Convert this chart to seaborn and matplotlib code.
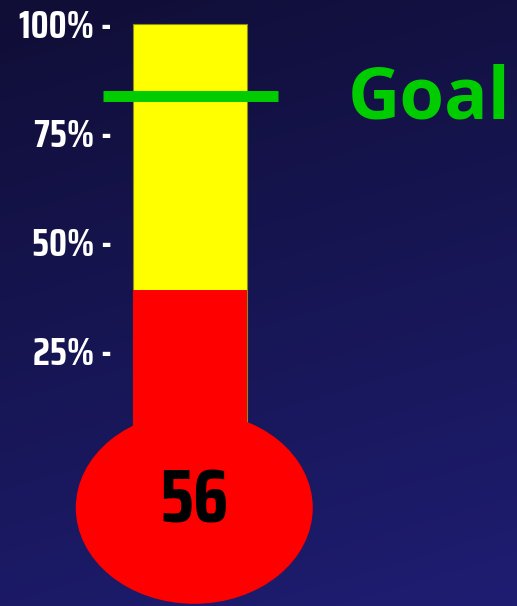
import numpy as np
import pandas as pd
import matplotlib
matplotlib.use("Agg")
import matplotlib.pyplot as plt
from matplotlib.patches import Ellipse
from matplotlib.colors import LinearSegmentedColormap
import seaborn as sns

# Data
count = 56
capacity = 144
goal = 120
tick_values = [25, 50, 75, 100]
tick_labels = ["25% -", "50% -", "75% -", "100% -"]

fill_pct = count / capacity * 100
goal_pct = goal / capacity * 100

sns.set_theme(style="white")
narrow = ["Saira Condensed", "Roboto Condensed", "DejaVu Sans"]
plt.rcParams["font.family"] = narrow

W, H = 517, 606
fig = plt.figure(figsize=(W / 100, H / 100), dpi=100)

# Navy gradient backdrop
bg = fig.add_axes([0, 0, 1, 1], zorder=-5)
yy, xx = np.mgrid[0:1:300j, 0:1:300j]
grad = 0.8 * yy + 0.2 * xx
cmap = LinearSegmentedColormap.from_list("navy", ["#100e36", "#1e1d72"])
bg.imshow(grad, cmap=cmap, aspect="auto", extent=[0, 1, 0, 1], origin="upper")
bg.set_axis_off()

# Main axes: left edge sits just right of the tick labels
left_px = 115
ax = fig.add_axes([left_px / W, 0, 1 - left_px / W, 1])
ax.set_facecolor("none")

px_per_unit = 142.5       # horizontal pixels per bar-width unit
tube_px = 190             # tube centre, pixels from left
px_per_pct = 4.347
zero_px = 458.7           # 0% level, pixels from top

xlim = ((left_px - tube_px) / px_per_unit, (W - tube_px) / px_per_unit)
ylim = ((zero_px - H) / px_per_pct, zero_px / px_per_pct)

# Tube: full scale in yellow, current level in red
df_full = pd.DataFrame({"item": ["level"], "value": [100]})
df_fill = pd.DataFrame({"item": ["level"], "value": [fill_pct]})
sns.barplot(data=df_full, x="item", y="value", color="#ffff00", saturation=1,
            width=0.8, edgecolor="#8c8c1a", linewidth=0.8, ax=ax, zorder=2)
sns.barplot(data=df_fill, x="item", y="value", color="#ff0000", saturation=1,
            width=0.8, linewidth=0, ax=ax, zorder=3)
ax.set_xlim(*xlim)
ax.set_ylim(*ylim)

# Bulb
bulb = Ellipse((0.03, -11.3), width=237 / px_per_unit, height=192 / px_per_pct,
               facecolor="#ff0000", edgecolor="none", zorder=4, clip_on=False)
ax.add_patch(bulb)
ax.text(0.03, -10.0, f"{count}", ha="center", va="center", color="black",
        fontsize=54, fontweight="bold", family=narrow, zorder=5)

# Goal marker
ax.plot([(103 - tube_px) / px_per_unit, (278 - tube_px) / px_per_unit],
        [goal_pct, goal_pct], color="#00cc00", linewidth=7.9,
        solid_capstyle="butt", clip_on=False, zorder=6)
ax.text((348 - tube_px) / px_per_unit, 78.2, "Goal", color="#00cc00",
        fontsize=52, fontweight="bold", family=["Open Sans", "DejaVu Sans"],
        ha="left", va="baseline", zorder=6)

# Axis styling
ax.set_yticks(tick_values)
ax.set_yticklabels(tick_labels, color="white", fontsize=27, fontweight="bold",
                   family=narrow)
ax.tick_params(axis="y", length=0, pad=2)
ax.set_xticks([])
ax.set_xlabel("")
ax.set_ylabel("")
for s in ax.spines.values():
    s.set_visible(False)

fig.savefig("out.png", dpi=100)
